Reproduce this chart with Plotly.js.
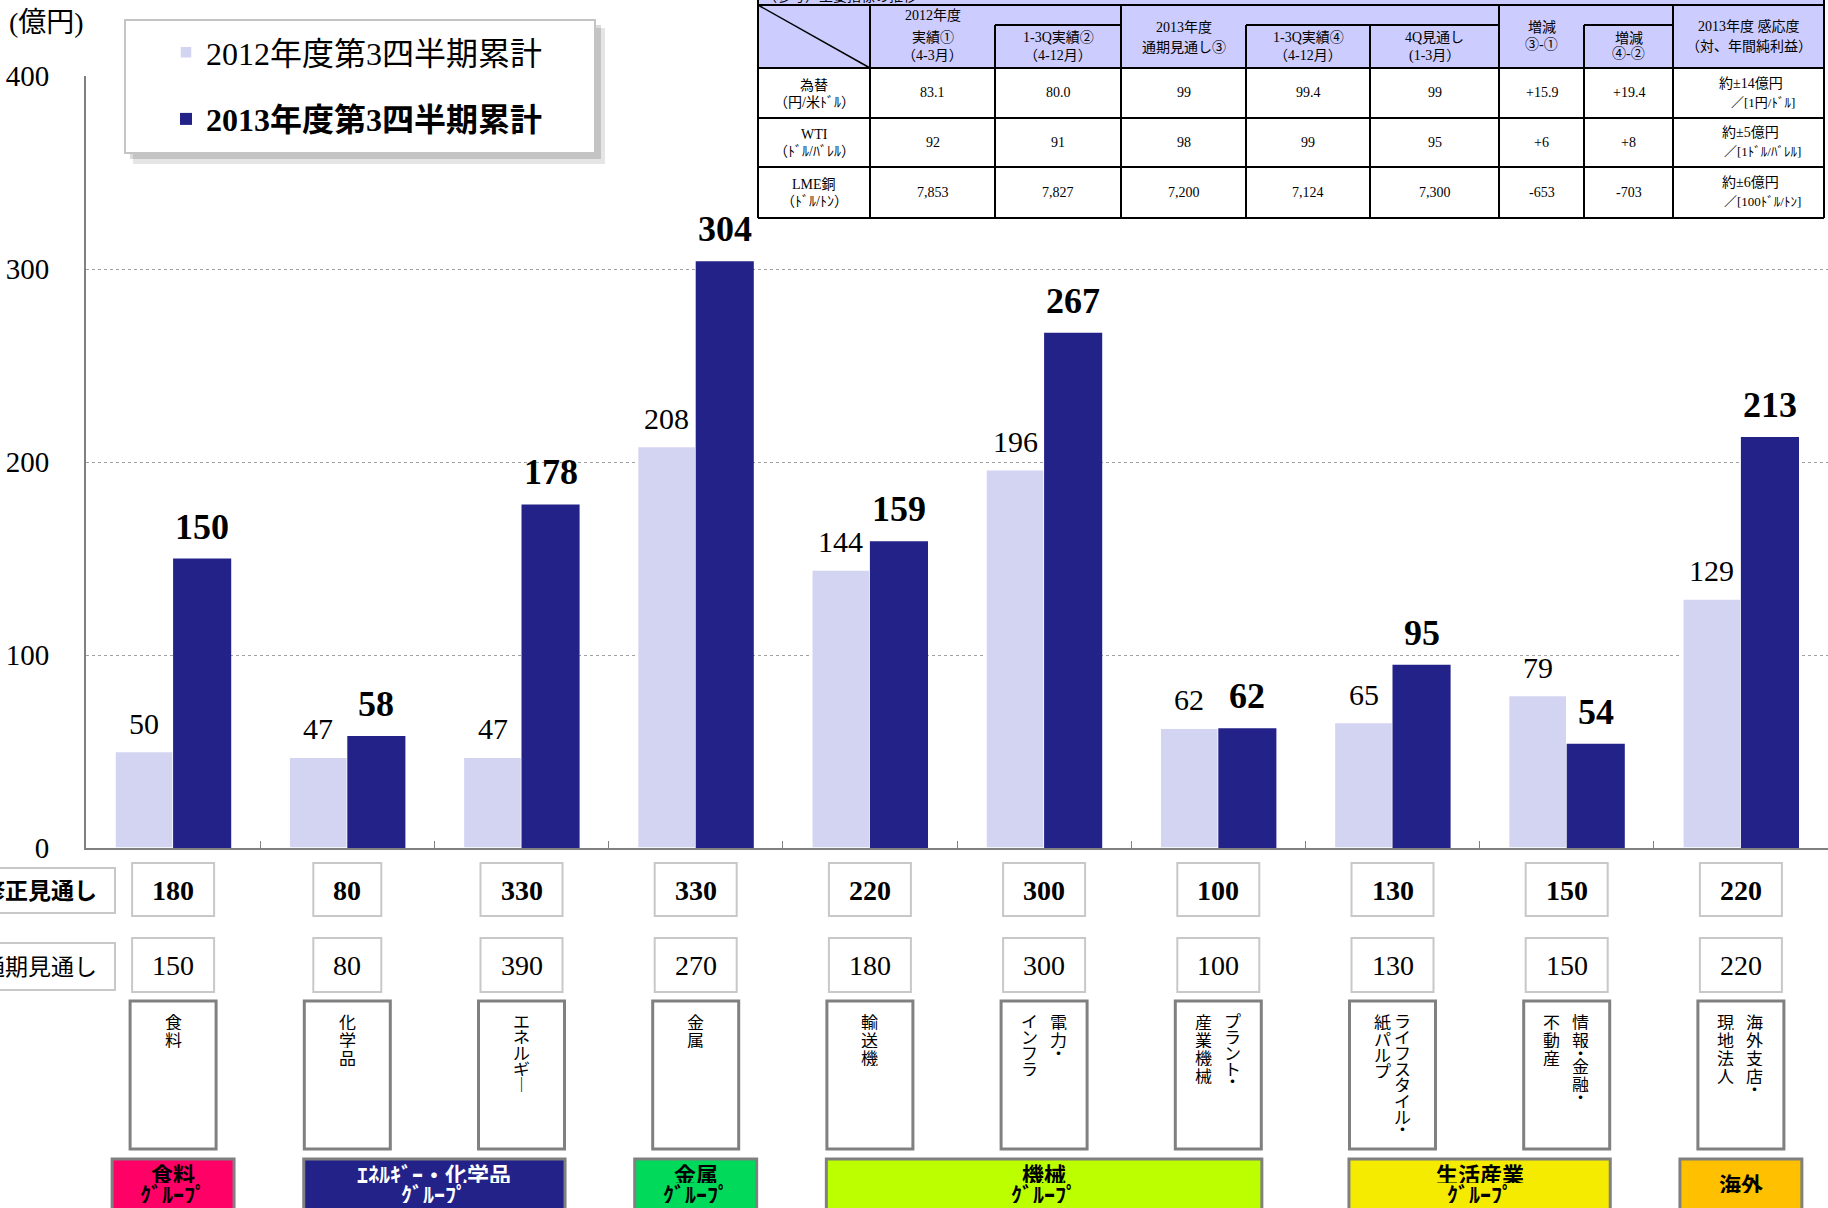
<!DOCTYPE html>
<html><head><meta charset="utf-8">
<script src="https://cdn.plot.ly/plotly-3.0.1.min.js"></script>
<style>html,body{margin:0;padding:0;background:#fff;}#chart{width:1828px;height:1208px;}</style>
</head><body><div id="chart"></div>
<script>
// ---------- data ----------
const segments = ['食料','化学品','エネルギー','金属','輸送機','電力・インフラ','プラント・産業機械','ライフスタイル・紙パルプ','情報・金融・不動産','海外支店・現地法人'];
const segmentColumns = [['食料'],['化学品'],['エネルギー'],['金属'],['輸送機'],['電力・','インフラ'],['プラント・','産業機械'],['ライフスタイル・','紙パルプ'],['情報・金融・','不動産'],['海外支店・','現地法人']];
const profit2012Q3 = [50,47,47,208,144,196,62,65,79,129];
const profit2013Q3 = [150,58,178,304,159,267,62,95,54,213];
const revisedForecast = [180,80,330,330,220,300,100,130,150,220];
const initialForecast = [150,80,390,270,180,300,100,130,150,220];
const seriesNames = ['2012年度第3四半期累計','2013年度第3四半期累計'];
const rowLabels = ['修正見通し','通期見通し'];
const yTicks = [0,100,200,300,400];
const yUnit = '(億円)';
const groupLines = [['食料','ｸﾞﾙｰﾌﾟ'],['ｴﾈﾙｷﾞｰ・化学品','ｸﾞﾙｰﾌﾟ'],['金属','ｸﾞﾙｰﾌﾟ'],['機械','ｸﾞﾙｰﾌﾟ'],['生活産業','ｸﾞﾙｰﾌﾟ'],['海外']];
const groupFirst = [0,1,3,4,7,9];
const groupLast  = [0,2,3,6,8,9];
// reference table
const tableTitle = '（参考）主要指標の推移';
const headerCols = [['2012年度','実績①','（4-3月）'],['1-3Q実績②','（4-12月）'],['2013年度','通期見通し③'],['1-3Q実績④','（4-12月）'],['4Q見通し','(1-3月）'],['増減','③-①'],['増減','④-②'],['2013年度 感応度','（対、年間純利益）']];
const indicatorNames = ['為替','WTI','LME銅'];
const indicatorUnits = ['（円/米ﾄﾞﾙ）','（ﾄﾞﾙ/ﾊﾞﾚﾙ）','（ﾄﾞﾙ/ﾄﾝ）'];
const fy2012Actual = ['83.1','92','7,853'];
const fy2012Q3 = ['80.0','91','7,827'];
const fy2013Forecast = ['99','98','7,200'];
const fy2013Q3 = ['99.4','99','7,124'];
const fy2013Q4Forecast = ['99','95','7,300'];
const diff31 = ['+15.9','+6','-653'];
const diff42 = ['+19.4','+8','-703'];
const sensitivity = ['約±14億円','約±5億円','約±6億円'];
const sensitivityUnit = ['／[1円/ﾄﾞﾙ]','／[1ﾄﾞﾙ/ﾊﾞﾚﾙ]','／[100ﾄﾞﾙ/ﾄﾝ]'];

// ---------- styles / geometry ----------
const L=86,T=76,W=1742,H=772;
const px=x=>(x-L)/W, py=y=>(T+H-y)/H;
const SERIF="Liberation Serif, 'Noto Sans CJK JP', serif";
const CJK="'Noto Sans CJK JP', sans-serif";
const LIGHT='#D3D3F2', DARK='#222288', HEAD='#CCCCFF';
const groupColors=['#FF0066','#222288','#00D95A','#BBFF00','#F5EB00','#FFC000'];
const groupTextColors=['#000','#fff','#000','#000','#000','#000'];
const shapes=[], annotations=[];
function rect(x0,y0,x1,y1,line,fill,lw){shapes.push({type:'rect',xref:'paper',yref:'paper',x0:px(x0),x1:px(x1),y0:py(y1),y1:py(y0),line:{color:line||'rgba(0,0,0,0)',width:lw===undefined?2:lw},fillcolor:fill||'rgba(0,0,0,0)',layer:'above'});}
function seg(x0,y0,x1,y1,color,w){shapes.push({type:'line',xref:'paper',yref:'paper',x0:px(x0),x1:px(x1),y0:py(y0),y1:py(y1),line:{color:color||'#000',width:w||2},layer:'above'});}
function text(x,y,t,size,opts,fontExtra){annotations.push(Object.assign({xref:'paper',yref:'paper',x:px(x),y:py(y),text:t,showarrow:false,xanchor:'center',yanchor:'middle',borderpad:0,font:Object.assign({family:SERIF,size:size,color:'#000'},fontExtra||{})},opts||{}));}
function catBox(i,w,y0,y1,line,lw,fill){shapes.push({type:'rect',xref:'x',xsizemode:'pixel',xanchor:i,x0:-w/2,x1:w/2,yref:'paper',y0:py(y1),y1:py(y0),line:{color:line,width:lw},fillcolor:fill||'#fff',layer:'above'});}
function catText(i,y,t,size,font,opts){annotations.push(Object.assign({xref:'x',x:i,yref:'paper',y:py(y),text:t,showarrow:false,xanchor:'center',yanchor:'middle',borderpad:0,font:Object.assign({family:SERIF,size:size,color:'#000'},font||{})},opts||{}));}

// legend box + shadow
rect(133,28,605,164,null,'rgba(0,0,0,0.10)',0);
rect(130,25,601,159,null,'rgba(0,0,0,0.14)',0);
rect(125,20,595,153,'#c4c4c4','#ffffff',2);

// y unit
text(8,23,yUnit,28,{xanchor:'left'});

// bar value labels
segments.forEach((s,i)=>{
  annotations.push({xref:'x',yref:'y',x:i,y:profit2012Q3[i],xshift:-29,yshift:11,yanchor:'bottom',xanchor:'center',showarrow:false,borderpad:0,text:String(profit2012Q3[i]),font:{family:SERIF,size:30,color:'#000'}});
  annotations.push({xref:'x',yref:'y',x:i,y:profit2013Q3[i],xshift:29,yshift:11,yanchor:'bottom',xanchor:'center',showarrow:false,borderpad:0,text:'<b>'+profit2013Q3[i]+'</b>',font:{family:SERIF,size:36,color:'#000'}});
});

// forecast rows
rect(-10,868,115,913,'#c8c8c8','#fff',2);
rect(-10,943,115,990,'#c8c8c8','#fff',2);
text(98,891,'<b>'+rowLabels[0]+'</b>',23,{xanchor:'right'});
text(98,967,rowLabels[1],23,{xanchor:'right'});
segments.forEach((s,i)=>{
  const w1=40+14*String(revisedForecast[i]).length;
  const w2=40+14*String(initialForecast[i]).length;
  catBox(i,w1,863,916,'#c8c8c8',2);
  catBox(i,w2,938,992,'#c8c8c8',2);
  catText(i,890,'<b>'+revisedForecast[i]+'</b>',28);
  catText(i,965,String(initialForecast[i]),28);
});

// segment vertical-text boxes
function charStep(c){ if(c==='・') return 8; if(/[\u4e00-\u9fff]/.test(c)) return 18; return 16; }
segmentColumns.forEach((cols,i)=>{
  catBox(i,86,1001,1149,'#808080',3);
  const off = cols.length===1?[0]:(i===7?[10,-10]:[14,-15]);
  cols.forEach((col,ci)=>{
    let y=1012;
    for(const ch of col){
      const st=charStep(ch);
      const c = ch==='ー'?'｜':ch;
      annotations.push({xref:'x',x:i,xshift:off[ci],yref:'paper',y:py(y+st/2),text:c,showarrow:false,xanchor:'center',yanchor:'middle',borderpad:0,width:19,height:st,font:{family:CJK,size:17,color:'#000'}});
      y+=st;
    }
  });
});

// group boxes
groupLines.forEach((lines,g)=>{
  const single = groupFirst[g]===groupLast[g];
  const pad = single?0.35:0.25;
  shapes.push({type:'rect',xref:'x',yref:'paper',x0:groupFirst[g]-pad,x1:groupLast[g]+pad,y0:py(1220),y1:py(1159),line:{color:'#808080',width:3},fillcolor:groupColors[g],layer:'above'});
  const xc=(groupFirst[g]+groupLast[g])/2;
  const ys = lines.length===1?[1183]:[1173,1193];
  lines.forEach((t,k)=>catText(xc,ys[k],'<b>'+t+'</b>',22,{family:CJK,color:groupTextColors[g]},{height:20}));
});

// ---------- reference table ----------
const tx=[758,870,995,1121,1246,1370,1499,1584,1673,1824];
const tyHead=5, tySub=25, tyHB=68, tyRows=[68,118,167,218];
rect(758,-20,1824,68,null,HEAD,0);
rect(758,68,1824,218,null,'#fff',0);
seg(758,-20,758,218); seg(1824,-20,1824,218);
seg(758,tyHead,1824,tyHead);
tyRows.forEach(y=>seg(758,y,1824,y));
seg(995,tySub,1121,tySub); seg(1246,tySub,1499,tySub); seg(1584,tySub,1673,tySub);
[[870,tyHead],[995,tySub],[1121,tyHead],[1246,tySub],[1370,tySub],[1499,tyHead],[1584,tySub],[1673,tyHead]].forEach(v=>seg(v[0],v[1],v[0],218));
seg(758,tyHead,870,tyHB,'#000',1.5);
text(762,-4,tableTitle,14,{xanchor:'left'});
const colC=[]; for(let k=0;k<tx.length-1;k++) colC.push((tx[k]+tx[k+1])/2);
const headY=[[16,37,56],[37,56],[27,47],[37,56],[37,56],[27,44],[38,54],[26,46]];
headerCols.forEach((lines,c)=>lines.forEach((t,k)=>text(colC[c+1],headY[c][k],t,14)));
const bodyCols=[fy2012Actual,fy2012Q3,fy2013Forecast,fy2013Q3,fy2013Q4Forecast,diff31,diff42];
const rowC=[93,142.5,192.5];
indicatorNames.forEach((n,r)=>{
  text(colC[0],rowC[r]-8,n,14);
  text(colC[0],rowC[r]+9,indicatorUnits[r],14);
  bodyCols.forEach((col,c)=>text(colC[c+1],rowC[r],col[r],14));
  text(colC[8]+2,rowC[r]-10,sensitivity[r],14);
  text(colC[8]+14,rowC[r]+9,sensitivityUnit[r],13);
});

// ---------- traces ----------
const data=[
  {type:'bar',name:seriesNames[0],x:segments,y:profit2012Q3,marker:{color:LIGHT,line:{color:'#ffffff',width:1.5}},legendgroup:'a',hoverinfo:'skip'},
  {type:'bar',name:'<b>'+seriesNames[1]+'</b>',x:segments,y:profit2013Q3,marker:{color:DARK,line:{width:0}},legendgroup:'b',hoverinfo:'skip'}
];
const layout={
  width:1828,height:1208,
  margin:{l:L,r:1828-L-W,t:T,b:1208-T-H,pad:0},
  paper_bgcolor:'#fff',plot_bgcolor:'#fff',
  font:{family:SERIF,color:'#000'},
  barmode:'group',bargap:0.333,bargroupgap:0,
  showlegend:true,
  legend:{x:px(166),y:py(25),xanchor:'left',yanchor:'top',bgcolor:'rgba(0,0,0,0)',borderwidth:0,font:{family:SERIF,size:32,color:'#000'},traceorder:'grouped',tracegroupgap:22},
  xaxis:{type:'category',showticklabels:false,showgrid:false,zeroline:false,showline:true,linecolor:'#808080',linewidth:2,ticks:'inside',tickson:'boundaries',ticklen:7,tickwidth:1,tickcolor:'#808080',fixedrange:true},
  yaxis:{range:[0,400],tickvals:yTicks,ticktext:yTicks.map(String),showgrid:true,gridcolor:'#a0a0a0',griddash:'dot',gridwidth:1,zeroline:false,showline:true,linecolor:'#808080',linewidth:2,ticks:'',ticklabelstandoff:29,tickfont:{family:SERIF,size:29,color:'#000'},fixedrange:true},
  shapes:shapes,annotations:annotations
};
Plotly.newPlot('chart',data,layout,{displayModeBar:false,staticPlot:true});
</script></body></html>
